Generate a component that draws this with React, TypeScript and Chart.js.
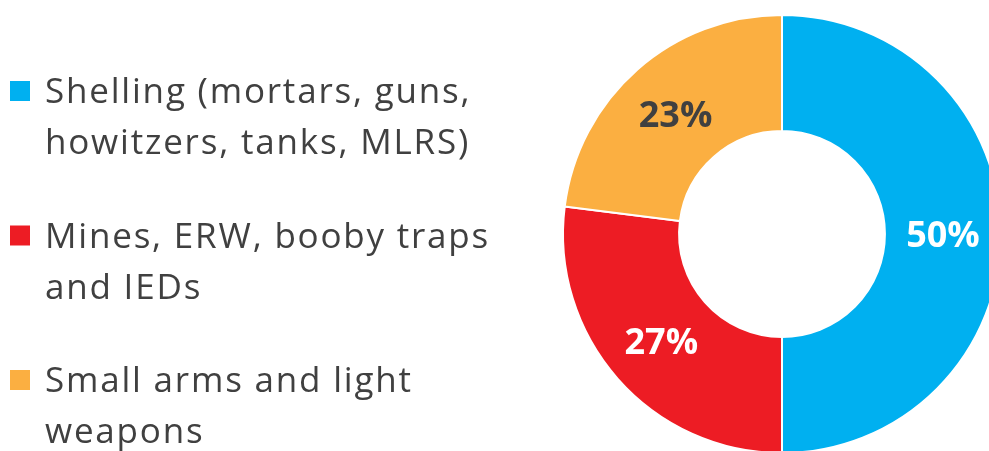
import React, { useEffect, useRef } from "react";
import { Chart, registerables } from "chart.js";

Chart.register(...registerables);

const categories: string[][] = [
  ["Shelling (mortars, guns,", "howitzers, tanks, MLRS)"],
  ["Mines, ERW, booby traps", "and IEDs"],
  ["Small arms and light", "weapons"],
];
const shares: number[] = [50, 27, 23];
const sliceColors: string[] = ["#00B0F0", "#ED1C24", "#FBAF41"];
const valueLabelColors: string[] = ["#FFFFFF", "#FFFFFF", "#404040"];

const FONT = "'Open Sans', Lato, sans-serif";

const legendPlugin = {
  id: "sideLegend",
  afterDraw(chart: any) {
    const ctx = chart.ctx;
    const labels = chart.data.labels as string[][];
    const colors = chart.data.datasets[0].backgroundColor as string[];
    ctx.save();
    ctx.font = `35px ${FONT}`;
    (ctx as any).letterSpacing = "1.8px";
    ctx.textAlign = "left";
    ctx.textBaseline = "alphabetic";
    labels.forEach((lines, i) => {
      const base = 103 + i * 144.5;
      ctx.fillStyle = colors[i];
      ctx.fillRect(10, base - 22, 20, 20);
      ctx.fillStyle = "#404040";
      lines.forEach((ln, j) => {
        ctx.fillText(ln, 45, base + j * 51);
      });
    });
    ctx.restore();
  },
};

const valuePlugin = {
  id: "valueLabels",
  afterDatasetsDraw(chart: any) {
    const ctx = chart.ctx;
    const meta = chart.getDatasetMeta(0);
    const values = chart.data.datasets[0].data as number[];
    ctx.save();
    ctx.font = `bold 36px ${FONT}`;
    ctx.textAlign = "center";
    ctx.textBaseline = "middle";
    meta.data.forEach((arc: any, i: number) => {
      const p = arc.tooltipPosition();
      ctx.fillStyle = valueLabelColors[i];
      ctx.fillText(`${values[i]}%`, p.x, p.y + 3);
    });
    ctx.restore();
  },
};

export default function App() {
  const ref = useRef<HTMLCanvasElement>(null);
  useEffect(() => {
    if (!ref.current) return;
    const chart = new Chart(ref.current, {
      type: "doughnut",
      data: {
        labels: categories as any,
        datasets: [
          {
            data: shares,
            backgroundColor: sliceColors,
            borderColor: "#FFFFFF",
            borderWidth: 2,
          },
        ],
      },
      options: {
        responsive: false,
        animation: false,
        cutout: "47%",
        layout: { padding: { left: 562, top: 14, right: 98, bottom: 26 } },
        plugins: {
          legend: { display: false },
          tooltip: { enabled: false },
        },
      },
      plugins: [legendPlugin, valuePlugin],
    });
    return () => chart.destroy();
  }, []);
  return (
    <div
      style={{
        position: "absolute",
        left: 0,
        top: 0,
        width: 989,
        height: 451,
        overflow: "hidden",
        background: "#FFFFFF",
      }}
    >
      <canvas ref={ref} width={1100} height={480} style={{ width: 1100, height: 480, display: "block" }} />
    </div>
  );
}
